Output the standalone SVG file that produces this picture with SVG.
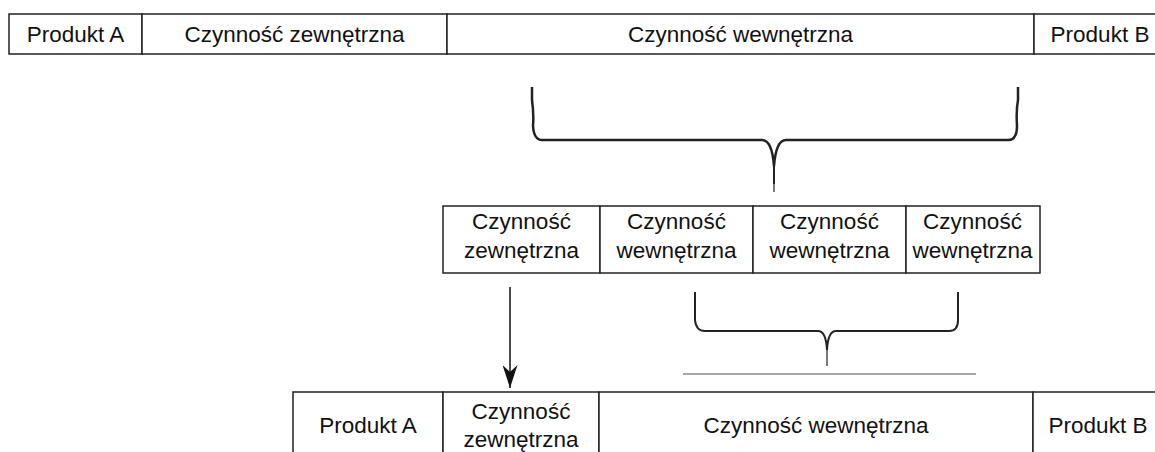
<svg xmlns="http://www.w3.org/2000/svg" width="1155" height="452" viewBox="0 0 1155 452">
<style>
.cell{fill:#fff;stroke:#222;stroke-width:1.5}
.t{font-family:"Liberation Sans",Arial,sans-serif;font-size:22.5px;fill:#111;text-anchor:middle}
.brace{fill:none;stroke:#222;stroke-width:2.5;stroke-linejoin:round}
.tail{fill:none;stroke:#222;stroke-width:1.2}
</style>
<defs>
<marker id="ah" viewBox="0 0 23 15" refX="23" refY="7.5" markerWidth="23" markerHeight="15" markerUnits="userSpaceOnUse" orient="auto">
<path d="M0,0 L7,7.5 L0,15 L23,7.5 Z" fill="#111"/>
</marker>
</defs>
<rect width="1155" height="452" fill="#fff"/>

<g id="top-row">
  <g id="top-produkt-a"><rect class="cell" x="9" y="14" width="133" height="40"/><text class="t" x="75.5" y="42">Produkt A</text></g>
  <g id="top-zewn"><rect class="cell" x="142" y="14" width="305" height="40"/><text class="t" x="294.5" y="42">Czynność zewnętrzna</text></g>
  <g id="top-wewn"><rect class="cell" x="447" y="14" width="587" height="40"/><text class="t" x="740.5" y="42">Czynność wewnętrzna</text></g>
  <g id="top-produkt-b"><rect class="cell" x="1034" y="14" width="134" height="40"/><text class="t" x="1100" y="42">Produkt B</text></g>
</g>

<g id="mid-row">
  <g id="mid-1"><rect class="cell" x="443" y="206" width="157" height="67"/><text class="t" x="521.5" y="229">Czynność</text><text class="t" x="521.5" y="258">zewnętrzna</text></g>
  <g id="mid-2"><rect class="cell" x="600" y="206" width="153" height="67"/><text class="t" x="676.5" y="229">Czynność</text><text class="t" x="676.5" y="258">wewnętrzna</text></g>
  <g id="mid-3"><rect class="cell" x="753" y="206" width="153" height="67"/><text class="t" x="829.5" y="229">Czynność</text><text class="t" x="829.5" y="258">wewnętrzna</text></g>
  <g id="mid-4"><rect class="cell" x="906" y="206" width="134" height="67"/><text class="t" x="972.5" y="229">Czynność</text><text class="t" x="972.5" y="258">wewnętrzna</text></g>
</g>

<g id="bottom-row">
  <g id="bot-produkt-a"><rect class="cell" x="293" y="392" width="150" height="80"/><text class="t" x="368" y="433">Produkt A</text></g>
  <g id="bot-zewn"><rect class="cell" x="443" y="392" width="156" height="80"/><text class="t" x="521" y="419">Czynność</text><text class="t" x="521" y="447">zewnętrzna</text></g>
  <g id="bot-wewn"><rect class="cell" x="599" y="392" width="434" height="80"/><text class="t" x="816" y="433">Czynność wewnętrzna</text></g>
  <g id="bot-produkt-b"><rect class="cell" x="1033" y="392" width="135" height="80"/><text class="t" x="1098" y="433">Produkt B</text></g>
</g>

<g id="connectors">
  <path class="brace" d="M532,87 L532,100 Q534,115 533,126 Q534,140 542,140 L762,140 Q772,140 774,166 Q776,140 786,140 L1008,140 Q1017,140 1017,126 Q1016,110 1018,100 L1018,87"/>
  <path class="brace" d="M774,164 L774,184" style="stroke-width:2"/>
  <path class="tail" d="M774,184 L774,192"/>
  <path class="brace" d="M695,292 L695,320 Q696,331 705,331 L818,331 Q826,331 827,350" style="stroke-width:2"/>
  <path class="brace" d="M827,350 Q828,331 836,331 L949,331 Q958,331 958,320 L958,292" style="stroke-width:2"/>
  <path class="tail" d="M827,348 L827,366"/>
  <line x1="683" y1="374" x2="976" y2="374" stroke="#888" stroke-width="1.5"/>
  <line x1="510" y1="287" x2="510" y2="388" stroke="#111" stroke-width="1.5" marker-end="url(#ah)"/>
</g>
</svg>
